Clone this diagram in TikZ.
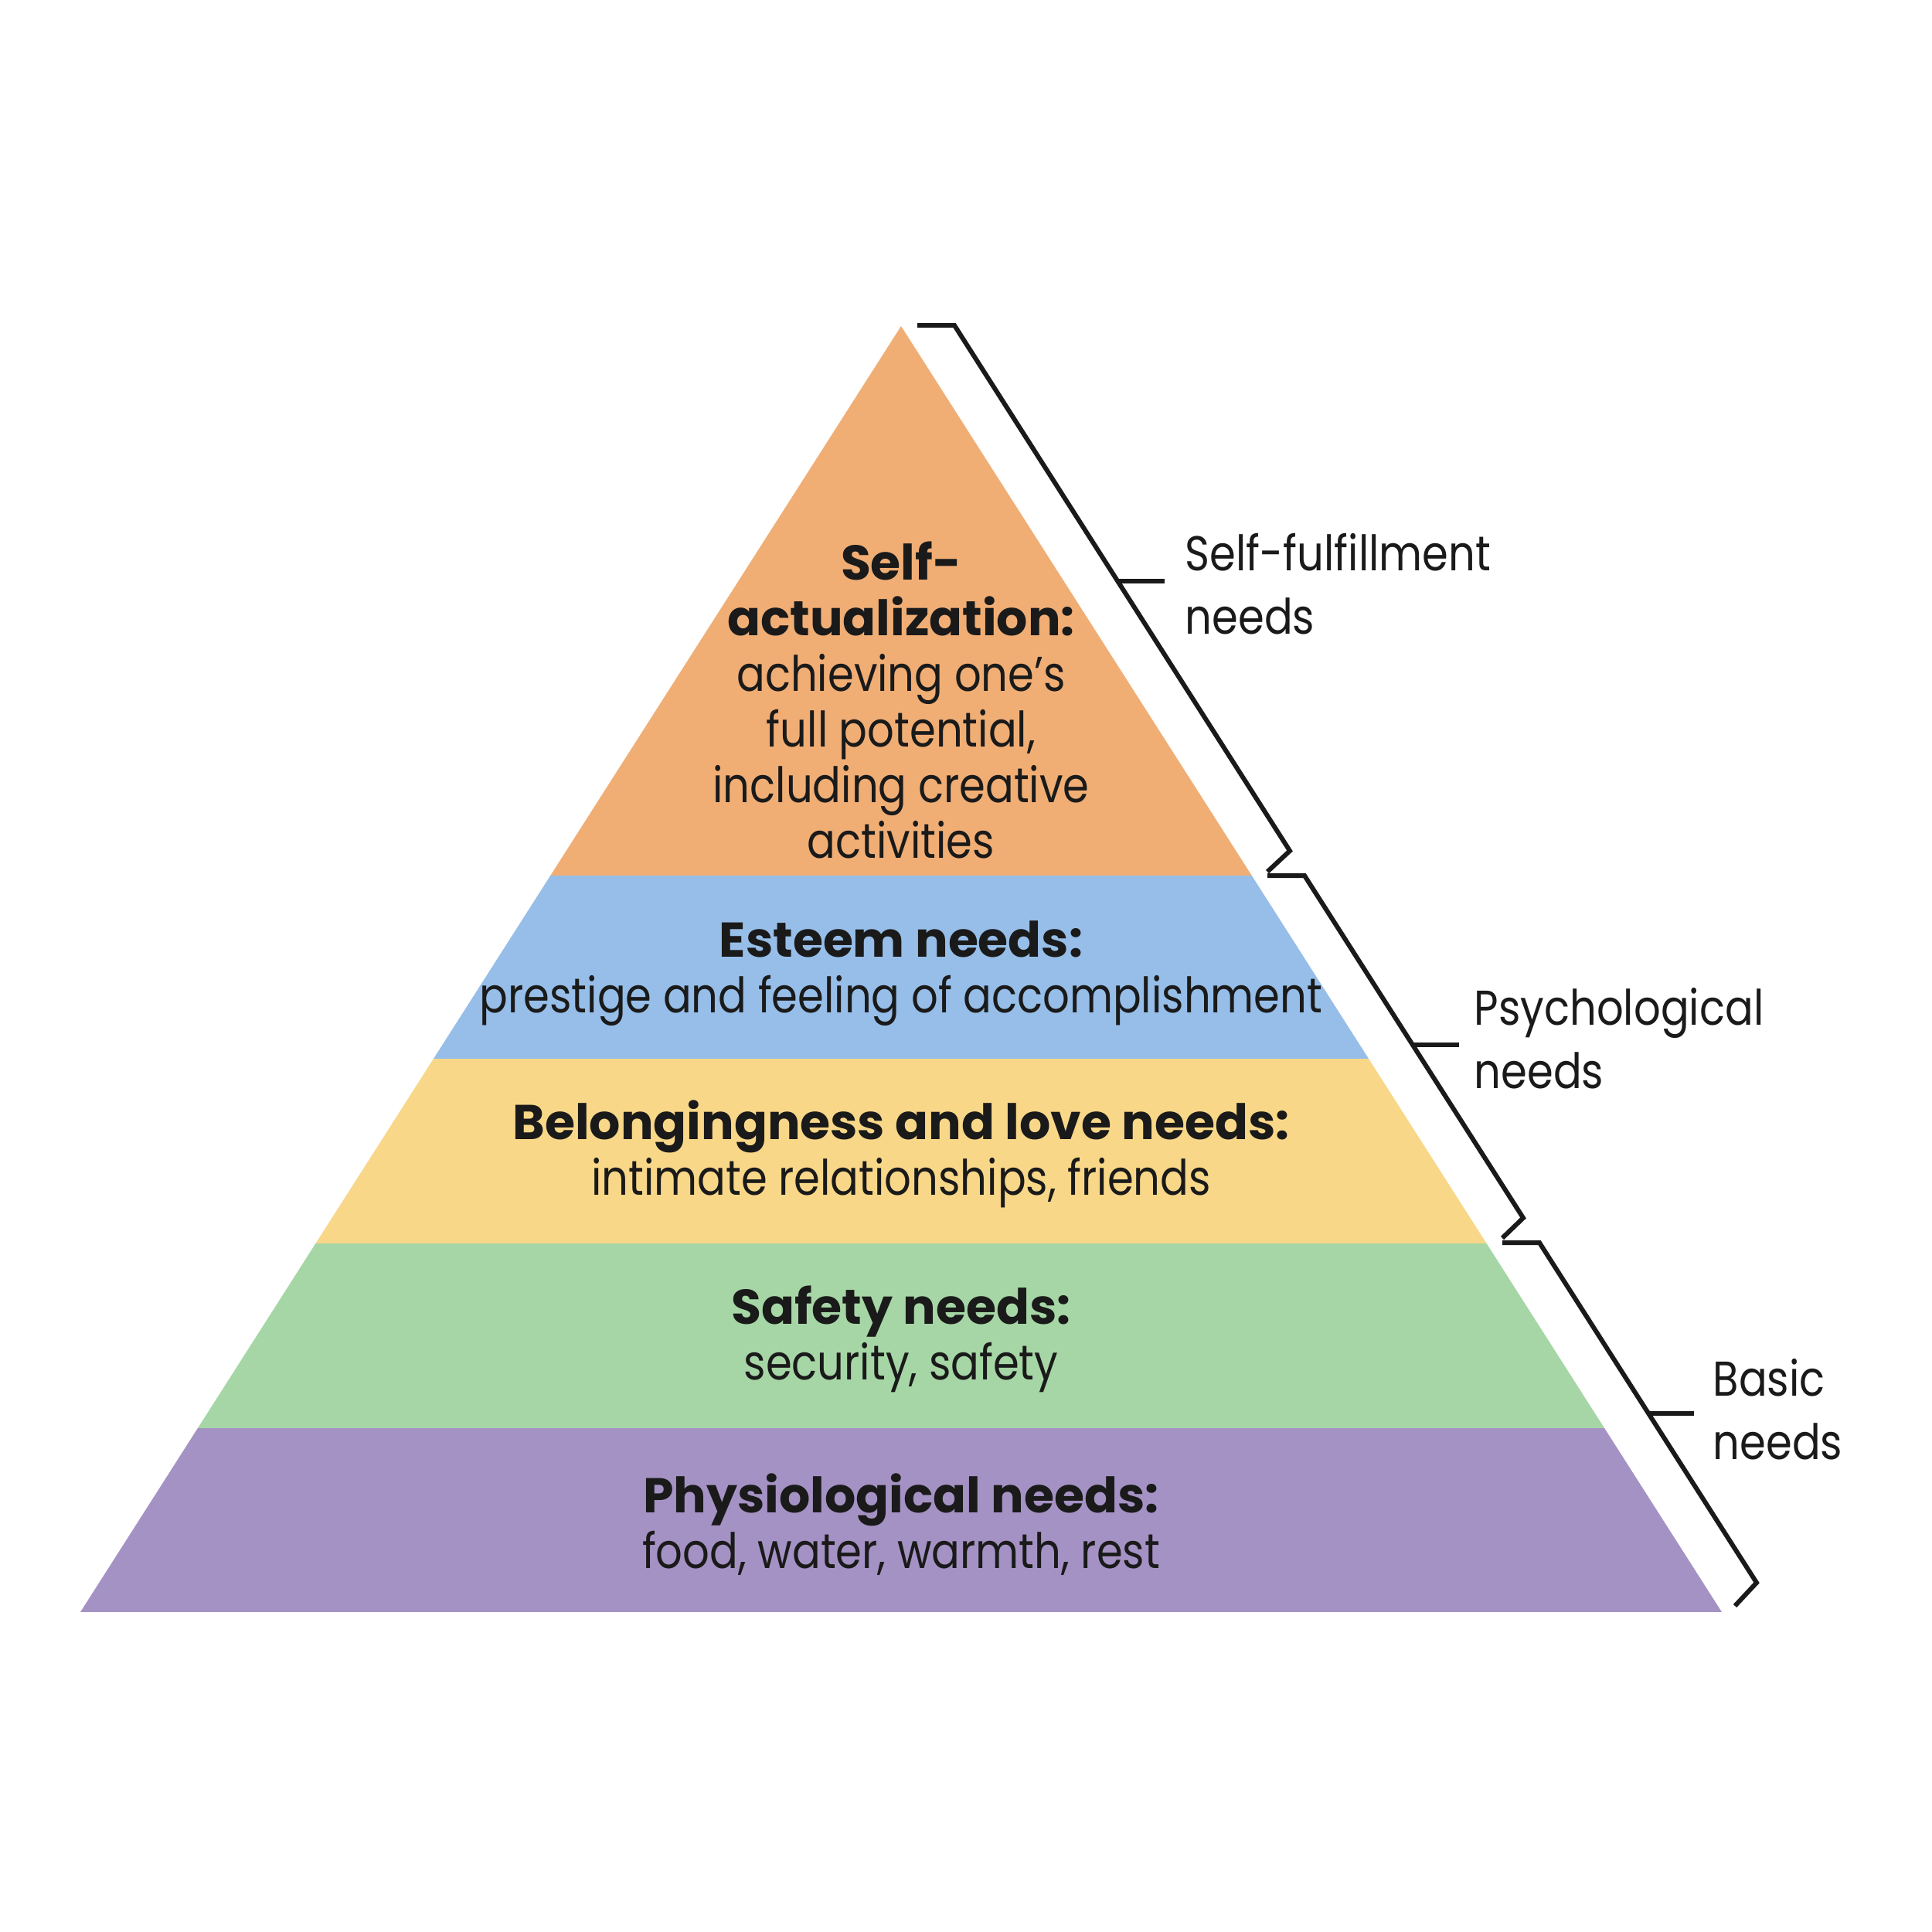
\documentclass[tikz,border=0pt]{standalone}
\usepackage{fontspec}
\setmainfont{Poppins}[FakeStretch=0.86]
\newfontfamily\headfont{Poppins}
\newcommand\lvltitle[1]{{\headfont\bfseries #1}}
\usetikzlibrary{positioning}
\definecolor{selfcol}{HTML}{F0AE75}
\definecolor{esteemcol}{HTML}{96BEE8}
\definecolor{lovecol}{HTML}{F8D788}
\definecolor{safecol}{HTML}{A6D6A6}
\definecolor{physcol}{HTML}{A592C4}
\definecolor{inkcol}{HTML}{1A1A1A}
\tikzset{
    level/.style={align=center,text=inkcol,font=\fontsize{18}{20.5}\selectfont},
    side/.style={anchor=west,align=left,inner xsep=0pt,text=inkcol,font=\fontsize{18}{23.3}\selectfont},
    brace/.style={draw=inkcol,line width=1.7pt,line join=miter}
}

\begin{document}
\begin{tikzpicture}[x=1cm,y=-1cm]
\useasboundingbox (0,0) rectangle (25,25);

% Pyramid corners
\coordinate (top) at (11.66,4.22);
\coordinate (bl) at (1.04,20.86);
\coordinate (br) at (22.28,20.86);

% Five bands, cut to the pyramid
\begin{scope}
\clip (top) -- (br) -- (bl) -- cycle;
\fill[selfcol] (0,4) rectangle (25,11.33);
\fill[esteemcol] (0,11.33) rectangle (25,13.70);
\fill[lovecol] (0,13.70) rectangle (25,16.09);
\fill[safecol] (0,16.09) rectangle (25,18.48);
\fill[physcol] (0,18.48) rectangle (25,20.86);
\end{scope}

% Texts of the bands
\node[level] (selfact) at (11.66,9.06) {\lvltitle{Self-}\\\lvltitle{actualization:}\\achieving one’s\\full potential,\\including creative\\activities};
\node[level] (esteem) at (11.66,12.60) {\lvltitle{Esteem needs:}\\prestige and feeling of accomplishment};
\node[level] (belong) at (11.66,14.93) {\lvltitle{Belongingness and love needs:}\\intimate relationships, friends};
\node[level] (safety) at (11.66,17.33) {\lvltitle{Safety needs:}\\security, safety};
\node[level] (physio) at (11.66,19.73) {\lvltitle{Physiological needs:}\\food, water, warmth, rest};

% Brackets on the right side
\draw[brace] (11.87,4.21) -- (12.35,4.21) -- (16.69,11.01) -- (16.40,11.28);
\draw[brace] (14.46,7.52) -- (15.07,7.52);
\draw[brace] (16.40,11.33) -- (16.88,11.33) -- (19.71,15.76) -- (19.44,16.02);
\draw[brace] (18.28,13.52) -- (18.88,13.52);
\draw[brace] (19.44,16.08) -- (19.92,16.08) -- (22.73,20.48) -- (22.45,20.78);
\draw[brace] (21.33,18.29) -- (21.92,18.29);

% Labels of the brackets
\node[side] (fulfil) at (15.33,7.56) {Self-fulfillment\\needs};
\node[side] (psych) at (19.07,13.44) {Psychological\\needs};
\node[side] (basic) at (22.16,18.24) {Basic\\needs};
\end{tikzpicture}
\end{document}
